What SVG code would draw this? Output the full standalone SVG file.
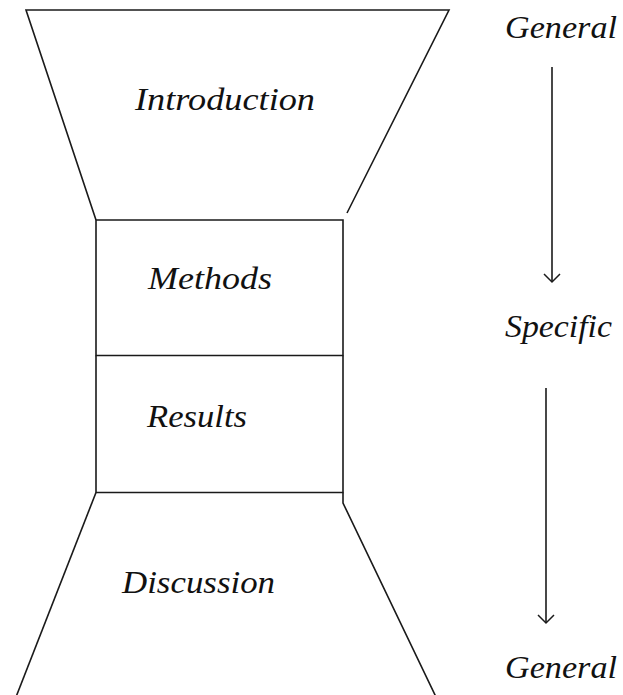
<svg xmlns="http://www.w3.org/2000/svg" width="623" height="695" viewBox="0 0 623 695">
<style>
  .ln { fill: none; stroke: #1a1a1a; stroke-width: 1.6; }
  .t { font-family: "Liberation Serif", "DejaVu Serif", serif; font-style: italic; font-size: 31px; fill: #111; }
</style>
<defs>
  <marker id="arr" markerWidth="20" markerHeight="20" refX="10" refY="10" orient="auto" markerUnits="userSpaceOnUse">
    <path d="M2,2 L10,10 L2,18" fill="none" stroke="#1a1a1a" stroke-width="1.5"/>
  </marker>
</defs>
<rect width="623" height="695" fill="#fff"/>
<g id="introduction">
  <path class="ln" d="M96,220 L26,10 L449,10 L347,213"/>
  <text class="t" x="135" y="110" textLength="180" lengthAdjust="spacingAndGlyphs">Introduction</text>
</g>
<g id="methods">
  <path class="ln" d="M96,355.5 L96,220 L343,220 L343,355.5 Z"/>
  <text class="t" x="148" y="289" textLength="124" lengthAdjust="spacingAndGlyphs">Methods</text>
</g>
<g id="results">
  <path class="ln" d="M96,355.5 L96,492.5 L343,492.5 L343,355.5"/>
  <text class="t" x="147" y="427" textLength="100" lengthAdjust="spacingAndGlyphs">Results</text>
</g>
<g id="discussion">
  <path class="ln" d="M96,492.5 L16,697"/>
  <path class="ln" d="M343,492.5 L343,503 L436,697"/>
  <text class="t" x="122" y="593" textLength="153" lengthAdjust="spacingAndGlyphs">Discussion</text>
</g>
<g id="general-top">
  <text class="t" x="505" y="38" textLength="112" lengthAdjust="spacingAndGlyphs">General</text>
</g>
<g id="specific">
  <text class="t" x="505" y="337" textLength="107" lengthAdjust="spacingAndGlyphs">Specific</text>
</g>
<g id="general-bottom">
  <text class="t" x="505" y="678" textLength="112" lengthAdjust="spacingAndGlyphs">General</text>
</g>
<g id="connectors">
  <line class="ln" x1="552" y1="67" x2="552" y2="282" marker-end="url(#arr)"/>
  <line class="ln" x1="546" y1="388" x2="546" y2="623" marker-end="url(#arr)"/>
</g>
</svg>
